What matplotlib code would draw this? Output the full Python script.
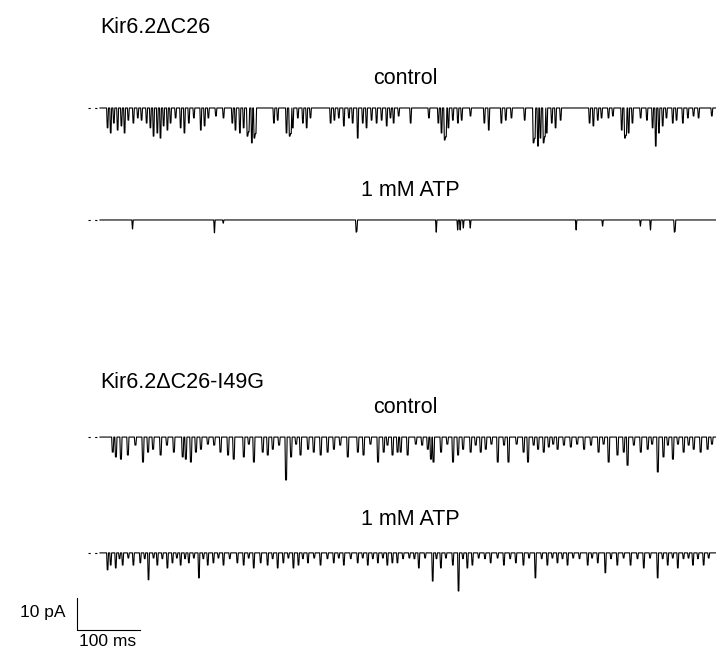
import numpy as np
import matplotlib.pyplot as plt

plt.rcParams['font.family'] = ['Liberation Sans', 'DejaVu Sans']

# single-channel openings: (time ms, amplitude pA)
dc26_control = [
    (11, 6.2), (16, 7.8), (21, 4.7), (27, 6.9), (33, 5.6), (38, 7.8), (44, 3.8), (52, 4.7),
    (59, 3.1), (65, 3.8), (73, 4.7), (79, 6.2), (84, 8.8), (90, 7.8), (95, 9.4), (100, 5.6),
    (106, 6.9), (111, 4.7), (119, 3.1), (127, 6.2), (133, 7.8), (140, 4.7), (148, 3.1),
    (159, 6.9), (165, 5.6), (171, 3.1), (183, 2.5), (195, 3.1), (209, 4.7), (214, 6.9),
    (221, 7.8), (227, 6.2), (233, 8.8), (235, 7.5), (240, 10.9), (244, 9.4), (246, 8.0),
    (275, 4.7), (281, 3.8), (295, 7.8), (300, 8.8), (302, 8.0), (305, 6.2), (313, 3.1),
    (321, 4.7), (327, 6.2), (333, 3.1), (365, 4.7), (371, 3.8), (378, 3.1), (386, 5.6),
    (394, 3.1), (400, 4.7), (408, 9.4), (416, 4.7), (422, 6.2), (430, 3.8), (438, 4.7),
    (446, 3.8), (454, 5.6), (460, 3.1), (465, 4.7), (473, 2.5), (492, 4.7), (521, 3.1),
    (536, 4.7), (541, 7.8), (546, 10.0), (548, 9.0), (552, 6.2), (559, 3.8), (567, 4.7),
    (573, 3.8), (587, 2.5), (609, 4.7), (616, 6.9), (636, 4.7), (643, 3.8), (652, 3.1),
    (673, 3.8), (687, 10.9), (689, 9.5), (694, 11.9), (698, 9.4), (703, 10.9), (705, 9.0),
    (708, 7.8), (716, 4.7), (722, 6.2), (730, 3.8), (776, 4.7), (782, 5.6), (789, 3.8),
    (795, 3.1), (806, 3.1), (813, 2.5), (827, 6.9), (832, 9.4), (834, 8.5), (838, 7.8),
    (844, 4.7), (857, 3.1), (867, 3.8), (876, 6.2), (881, 11.9), (886, 7.8), (892, 5.6),
    (898, 3.1), (908, 4.7), (914, 3.8), (924, 4.7), (932, 3.1), (941, 2.5), (949, 3.1),
    (970, 2.5),
]
dc26_atp = [
    (51, 2.8), (181, 4.0), (195, 1.0), (406, 3.8), (407, 3.5), (533, 3.8), (567, 3.1),
    (571, 3.1), (576, 2.5), (587, 2.5), (755, 3.1), (797, 1.9), (857, 1.9), (873, 3.1),
    (911, 3.8), (912, 3.5),
]
i49g_control = [
    (19, 4.7), (24, 6.2), (32, 6.9), (43, 5.6), (55, 2.5), (67, 7.8), (75, 4.7), (83, 3.8),
    (95, 5.6), (105, 2.5), (116, 4.7), (130, 6.2), (135, 6.9), (143, 7.8), (151, 4.7),
    (159, 3.8), (170, 2.2), (180, 2.5), (190, 4.7), (202, 5.6), (211, 6.9), (227, 6.2),
    (235, 2.2), (243, 7.8), (257, 4.7), (265, 5.6), (273, 3.8), (283, 2.5), (294, 13.4),
    (302, 6.2), (310, 2.2), (317, 5.6), (329, 3.8), (338, 4.7), (349, 5.6), (360, 4.7),
    (370, 3.8), (380, 2.5), (392, 6.2), (408, 4.7), (417, 5.6), (428, 2.2), (440, 7.8),
    (449, 4.7), (455, 2.5), (463, 5.6), (471, 4.7), (476, 4.7), (487, 5.6), (500, 2.2),
    (510, 2.5), (519, 3.8), (524, 6.9), (528, 7.8), (540, 4.7), (550, 2.2), (559, 7.8),
    (567, 5.6), (575, 3.8), (587, 4.7), (595, 2.5), (603, 4.7), (611, 3.8), (620, 2.2),
    (630, 7.8), (640, 2.5), (647, 7.8), (660, 2.2), (671, 4.7), (678, 7.8), (687, 2.5),
    (694, 3.8), (703, 4.7), (711, 3.1), (718, 2.2), (725, 3.8), (735, 2.5), (746, 3.1),
    (756, 2.2), (767, 3.8), (778, 2.5), (790, 4.7), (798, 2.2), (806, 7.8), (820, 5.6),
    (830, 4.7), (836, 8.8), (846, 2.5), (857, 4.7), (868, 3.8), (875, 2.2), (884, 10.9),
    (893, 6.2), (900, 2.5), (908, 6.9), (916, 2.2), (925, 4.7), (933, 2.5), (941, 3.8),
    (952, 4.7), (963, 3.8), (970, 2.2),
]
i49g_atp = [
    (11, 5.3), (16, 3.8), (24, 4.7), (30, 1.8), (35, 3.8), (44, 1.6), (52, 3.8), (63, 3.1),
    (70, 1.8), (76, 8.4), (84, 1.6), (90, 3.8), (98, 1.8), (106, 4.7), (114, 3.1),
    (121, 1.6), (127, 3.8), (134, 1.8), (140, 3.1), (148, 1.6), (156, 7.8), (163, 1.8),
    (170, 3.8), (179, 3.1), (187, 1.6), (195, 3.8), (205, 1.8), (217, 3.1), (227, 3.8),
    (235, 1.6), (243, 4.7), (254, 3.1), (265, 3.8), (273, 1.8), (281, 4.7), (290, 3.1),
    (298, 1.6), (306, 4.7), (314, 3.8), (321, 1.8), (329, 3.1), (339, 1.6), (349, 3.8),
    (360, 1.8), (370, 3.1), (378, 1.6), (386, 3.8), (397, 1.8), (408, 3.1), (416, 1.6),
    (424, 3.8), (432, 1.8), (440, 3.1), (448, 1.6), (455, 3.8), (463, 3.1), (471, 3.1),
    (480, 1.8), (490, 1.6), (498, 1.8), (505, 4.7), (515, 1.6), (527, 8.8), (533, 1.8),
    (540, 4.7), (548, 1.6), (559, 3.8), (568, 11.9), (575, 1.8), (582, 4.7), (590, 3.8),
    (600, 1.6), (610, 1.8), (619, 3.1), (630, 1.6), (640, 3.8), (650, 1.8), (659, 3.1),
    (671, 3.8), (680, 1.6), (690, 7.8), (700, 1.8), (709, 3.8), (717, 1.6), (725, 3.1),
    (733, 1.8), (741, 3.8), (750, 1.6), (760, 1.8), (773, 3.8), (780, 1.6), (789, 3.1),
    (801, 6.2), (810, 1.8), (820, 3.8), (830, 1.6), (841, 3.8), (852, 1.8), (862, 4.7),
    (872, 1.6), (884, 7.8), (892, 1.8), (900, 3.8), (908, 1.6), (916, 4.7), (925, 1.8),
    (933, 1.6), (940, 3.8), (948, 1.8), (957, 3.8), (965, 1.6),
]

# mean open time per record (ms)
open_ms = {'dc26_control': 1.8, 'dc26_atp': 1.2, 'i49g_control': 2.5, 'i49g_atp': 2.0}
record_ms = 978

group_labels = ['Kir6.2\u0394C26', 'Kir6.2\u0394C26-I49G']
cond_labels = ['control', '1 mM ATP']


def build_trace(events, dur, length=record_ms, dt=0.25):
    t = np.arange(0, length, dt)
    cur = np.zeros_like(t)
    for start, amp in events:
        m = (t >= start) & (t < start + dur)
        cur[m] = np.minimum(cur[m], -amp)
    k = np.ones(4) / 4  # a bit of filtering like the recording
    cur = np.convolve(cur, k, mode='same')
    return t, cur


# figure is laid out so that 100 ms = 63 px and 10 pA = 32 px
fig = plt.figure(figsize=(7.16, 6.54), dpi=100)
ax = fig.add_axes([0, 0, 1, 1])
ax.set_xlim(-158.7, 977.6)
ax.set_ylim(-204.4, 0)
ax.axis('off')

traces = [
    (dc26_control, open_ms['dc26_control'], -33.75),
    (dc26_atp, open_ms['dc26_atp'], -68.75),
    (i49g_control, open_ms['i49g_control'], -136.6),
    (i49g_atp, open_ms['i49g_atp'], -172.8),
]
for events, dur, base in traces:
    t, cur = build_trace(events, dur)
    ax.plot(t, cur + base, color='black', lw=0.8)
    # closed level marker
    ax.plot([-19, -3], [base, base], color='black', lw=0.8, ls=(0, (2, 4)))

fs = 15.5
ax.text(0, -8.75, group_labels[0], fontsize=fs, va='center', ha='left')
ax.text(0, -119.7, group_labels[1], fontsize=fs, va='center', ha='left')
ax.text(484, -24.4, cond_labels[0], fontsize=fs, va='center', ha='center')
ax.text(492, -59.4, cond_labels[1], fontsize=fs, va='center', ha='center')
ax.text(484, -127.5, cond_labels[0], fontsize=fs, va='center', ha='center')
ax.text(492, -162.5, cond_labels[1], fontsize=fs, va='center', ha='center')

# scale bar: 10 pA, 100 ms
sx, sy = -36.5, -196.9
ax.plot([sx, sx, sx + 100], [sy + 10, sy, sy], color='black', lw=0.8)
ax.text(sx - 19, sy + 5.6, '10 pA', fontsize=12.5, ha='right', va='center')
ax.text(sx + 49, sy - 3.7, '100 ms', fontsize=12.5, ha='center', va='center')

fig.savefig('out.png', dpi=100, facecolor='white')
